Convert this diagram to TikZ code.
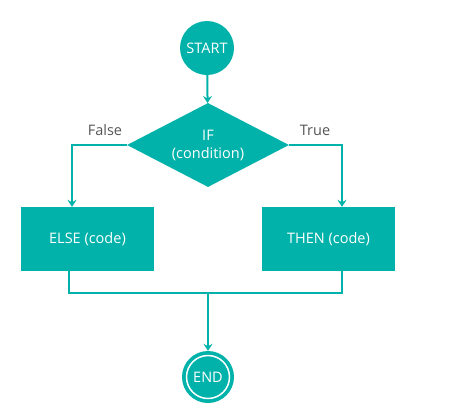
\documentclass[tikz,border=0pt]{standalone}
\usepackage{fontspec}
\setmainfont{Open Sans}
\usetikzlibrary{shapes.geometric,arrows.meta}
\definecolor{tealc}{RGB}{0,178,170}
\definecolor{lblc}{RGB}{85,85,85}
\begin{document}
\begin{tikzpicture}[x=1pt,y=-1pt,
  conn/.style={draw=tealc, line width=2pt},
  arr/.style={-{Stealth[length=7pt,width=9pt,inset=2.5pt]}},
  circnode/.style={circle, fill=tealc, text=white, minimum size=54pt, inner sep=0pt, font=\fontsize{14.5}{17}\selectfont},
  dianode/.style={diamond, fill=tealc, text=white, minimum width=162pt, minimum height=84pt, shape aspect=1.94, inner sep=0pt, align=center, font=\fontsize{14.5}{18}\selectfont},
  boxnode/.style={rectangle, fill=tealc, text=white, minimum width=133pt, minimum height=64pt, inner sep=0pt, font=\fontsize{14.5}{17}\selectfont},
  lbl/.style={text=lblc, font=\fontsize{14.5}{17}\selectfont, inner sep=0pt}]
\useasboundingbox (0,0) rectangle (452,413);
\node[circnode] (start) at (207,48) {START};
\node[dianode] (if) at (208,145) {IF\\(condition)};
\node[boxnode] (else) at (87.5,239) {ELSE (code)};
\node[boxnode] (then) at (328.5,239) {THEN (code)};
\node[circnode, minimum size=52pt] (end) at (208,377) {END};
\draw[white, line width=1.5pt] (end.center) circle (21.5);
\node[lbl] (false) at (105,130) {False};
\node[lbl] (true) at (315,130) {True};
\coordinate (m) at (208,293);
\draw[conn,arr] (start) -- (if);
\draw[conn,arr] (if.west) -| ([xshift=-15.5pt]else.north);
\draw[conn,arr] (if.east) -| ([xshift=13.5pt]then.north);
\draw[conn] ([xshift=-18.5pt]else.south) |- (m) -| ([xshift=13.5pt]then.south);
\draw[conn,arr] (m) -- (end);
\end{tikzpicture}
\end{document}
